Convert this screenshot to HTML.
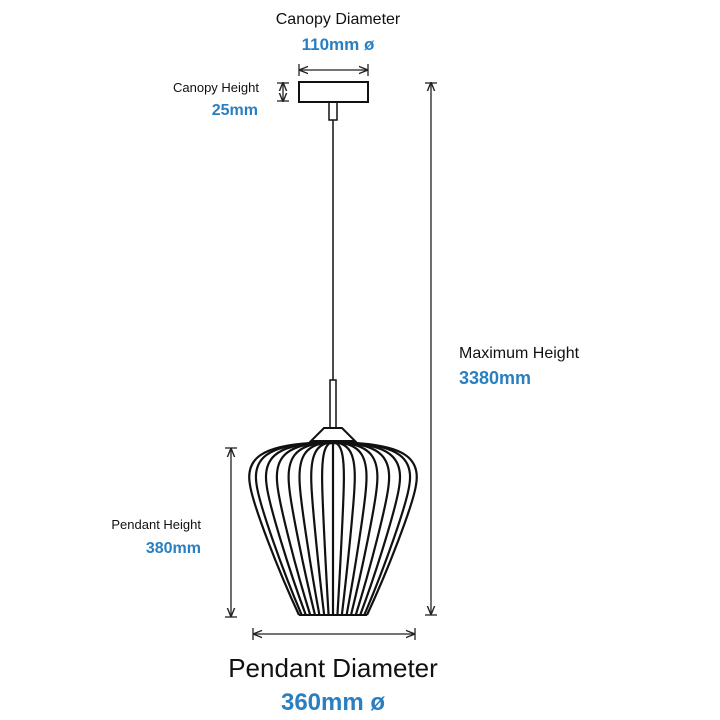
<!DOCTYPE html><html><head><style>body{margin:0;background:#fff}svg{display:block}</style></head><body>
<svg width="720" height="720" viewBox="0 0 720 720" xmlns="http://www.w3.org/2000/svg" font-family="Liberation Sans, sans-serif">
<defs>
<path id="r" d="M22 443 C70 446 88 458 83 485 C80 505 55 570 34 615" fill="none" stroke="#111" stroke-width="2.2" vector-effect="non-scaling-stroke"/>
<marker id="a" viewBox="0 0 10 10" refX="9" refY="5" markerWidth="7" markerHeight="7" orient="auto-start-reverse"><path d="M0 1 L10 5 L0 9" fill="none" stroke="#222" stroke-width="1.5"/></marker>
</defs>
<g fill="none" stroke="#111" stroke-width="1.5">
<rect x="299" y="82" width="69" height="20" stroke-width="2"/>
<rect x="329" y="102" width="8" height="18"/>
<line x1="333" y1="120" x2="333" y2="380"/>
<rect x="330" y="380" width="6" height="48"/>
<path d="M324 428 L342 428 L355 441 L311 441 Z" stroke-width="2"/>
<line x1="311" y1="443" x2="355" y2="443" stroke-width="2.5"/>
<line x1="299" y1="615" x2="367" y2="615" stroke-width="2"/>
</g>
<line x1="333" y1="443" x2="333" y2="615" stroke="#111" stroke-width="2.2"/>
<g>
<use href="#r" transform="translate(333 0) scale(1 1)"/>
<use href="#r" transform="translate(333 0) scale(0.92 1)"/>
<use href="#r" transform="translate(333 0) scale(0.8 1)"/>
<use href="#r" transform="translate(333 0) scale(0.67 1)"/>
<use href="#r" transform="translate(333 0) scale(0.53 1)"/>
<use href="#r" transform="translate(333 0) scale(0.4 1)"/>
<use href="#r" transform="translate(333 0) scale(0.26 1)"/>
<use href="#r" transform="translate(333 0) scale(0.13 1)"/>
<use href="#r" transform="translate(333 0) scale(-1 1)"/>
<use href="#r" transform="translate(333 0) scale(-0.92 1)"/>
<use href="#r" transform="translate(333 0) scale(-0.8 1)"/>
<use href="#r" transform="translate(333 0) scale(-0.67 1)"/>
<use href="#r" transform="translate(333 0) scale(-0.53 1)"/>
<use href="#r" transform="translate(333 0) scale(-0.4 1)"/>
<use href="#r" transform="translate(333 0) scale(-0.26 1)"/>
<use href="#r" transform="translate(333 0) scale(-0.13 1)"/>
</g>
<g stroke="#222" stroke-width="1.3" fill="none">
<line x1="300" y1="70" x2="367" y2="70" marker-start="url(#a)" marker-end="url(#a)"/>
<line x1="299" y1="64" x2="299" y2="76"/><line x1="368" y1="64" x2="368" y2="76"/>
<line x1="283" y1="83" x2="283" y2="101" marker-start="url(#a)" marker-end="url(#a)"/>
<line x1="277" y1="83" x2="289" y2="83"/><line x1="277" y1="101" x2="289" y2="101"/>
<line x1="431" y1="83" x2="431" y2="614" marker-start="url(#a)" marker-end="url(#a)"/>
<line x1="425" y1="83" x2="437" y2="83"/><line x1="425" y1="615" x2="437" y2="615"/>
<line x1="231" y1="449" x2="231" y2="616" marker-start="url(#a)" marker-end="url(#a)"/>
<line x1="225" y1="448" x2="237" y2="448"/><line x1="225" y1="617" x2="237" y2="617"/>
<line x1="254" y1="634" x2="414" y2="634" marker-start="url(#a)" marker-end="url(#a)"/>
<line x1="253" y1="628" x2="253" y2="640"/><line x1="415" y1="628" x2="415" y2="640"/>
</g>
<g fill="#111">
<text x="338" y="24" font-size="16" text-anchor="middle">Canopy Diameter</text>
<text x="259" y="92" font-size="13" text-anchor="end">Canopy Height</text>
<text x="459" y="358" font-size="16">Maximum Height</text>
<text x="201" y="529" font-size="13" text-anchor="end">Pendant Height</text>
<text x="333" y="677" font-size="26" text-anchor="middle">Pendant Diameter</text>
</g>
<g fill="#2a7fc1" font-weight="bold">
<text x="338" y="50" font-size="17" text-anchor="middle">110mm ø</text>
<text x="258" y="115" font-size="16" text-anchor="end">25mm</text>
<text x="459" y="384" font-size="18">3380mm</text>
<text x="201" y="553" font-size="16" text-anchor="end">380mm</text>
<text x="333" y="710" font-size="24" text-anchor="middle">360mm ø</text>
</g>
</svg>
</body></html>
